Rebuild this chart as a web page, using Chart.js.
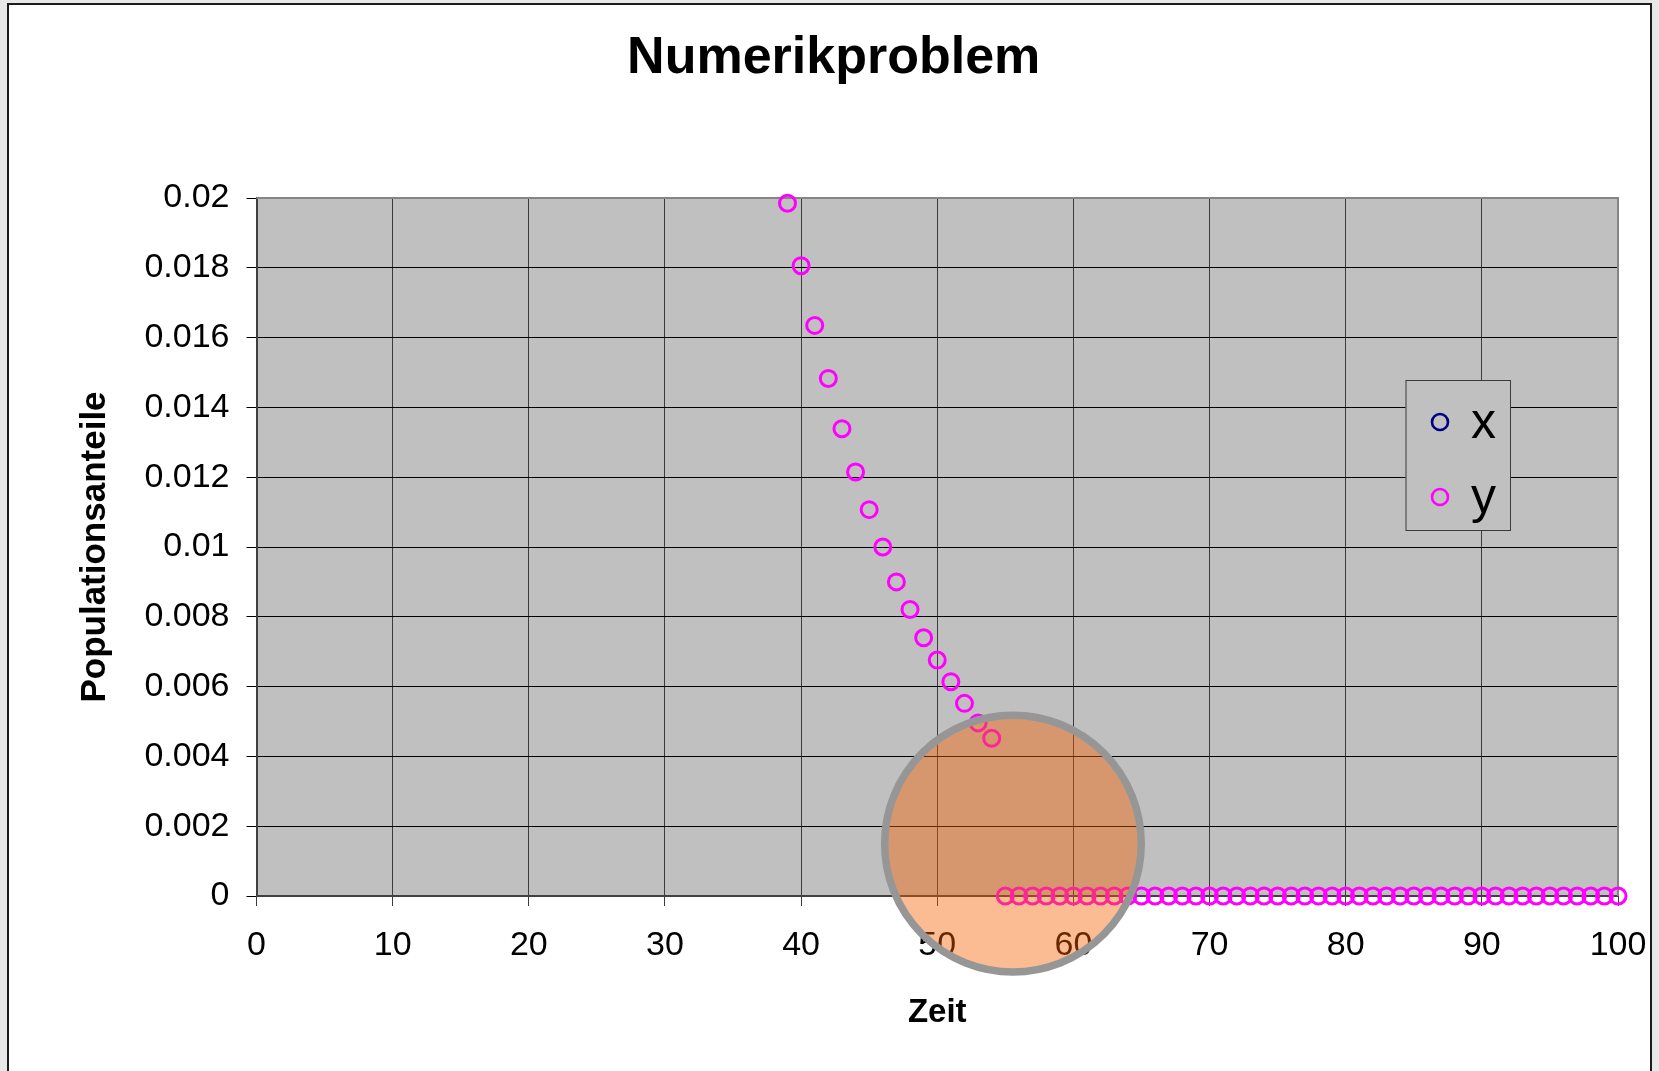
<!DOCTYPE html>
<html>
<head>
<meta charset="utf-8">
<title>Numerikproblem</title>
<script src="https://cdn.jsdelivr.net/npm/chart.js@4.4.1/dist/chart.umd.min.js"></script>
<style>
  html, body { margin: 0; padding: 0; width: 1659px; height: 1071px; overflow: hidden; background: #e8e8e8; }
  #sheet { position: absolute; left: 7px; top: 3px; width: 1641px; height: 1120px; border: 2px solid #1c1c1c; background: #ffffff; }
  #chart { position: absolute; left: 0; top: 0; }
</style>
</head>
<body>
<div id="sheet"></div>
<canvas id="chart" width="1659" height="1071"></canvas>
<script>
const FONT = '"Liberation Sans", Arial, Helvetica, sans-serif';

// Zeit (time steps) of the plotted points
const zeit = [
  39, 40, 41, 42, 43, 44, 45, 46, 47, 48, 49, 50, 51, 52, 53, 54,
  55, 56, 57, 58, 59, 60, 61, 62, 63, 64, 65, 66, 67, 68, 69, 70,
  71, 72, 73, 74, 75, 76, 77, 78, 79, 80, 81, 82, 83, 84, 85, 86,
  87, 88, 89, 90, 91, 92, 93, 94, 95, 96, 97, 98, 99, 100
];

// Population share y at each time step
const anteilY = [
  0.01985, 0.01806, 0.01635, 0.01483, 0.01339, 0.01215, 0.01107, 0.01000,
  0.00900, 0.00821, 0.00740, 0.00676, 0.00614, 0.00552, 0.00496, 0.00452,
  0, 0, 0, 0, 0, 0, 0, 0, 0, 0, 0, 0, 0, 0, 0, 0,
  0, 0, 0, 0, 0, 0, 0, 0, 0, 0, 0, 0, 0, 0, 0, 0,
  0, 0, 0, 0, 0, 0, 0, 0, 0, 0, 0, 0, 0, 0
];

// Population share x: no points inside the shown value range
const anteilX = [];

const xTickLabels = ['0', '10', '20', '30', '40', '50', '60', '70', '80', '90', '100'];
const yTickLabels = ['0', '0.002', '0.004', '0.006', '0.008', '0.01', '0.012', '0.014', '0.016', '0.018', '0.02'];

const seriesNames = ['x', 'y'];

// Grey plot background behind the grid
const plotBackground = {
  id: 'plotBackground',
  beforeDraw(chart) {
    const { ctx, chartArea: a } = chart;
    ctx.save();
    ctx.fillStyle = '#c0c0c0';
    ctx.fillRect(a.left, a.top, a.right - a.left, a.bottom - a.top);
    ctx.restore();
  }
};

// Upper and right edge of the plot frame
const plotFrame = {
  id: 'plotFrame',
  beforeDatasetsDraw(chart) {
    const { ctx, chartArea: a } = chart;
    ctx.save();
    ctx.strokeStyle = '#858585';
    ctx.lineWidth = 2;
    ctx.beginPath();
    ctx.moveTo(a.left, a.top);
    ctx.lineTo(a.right, a.top);
    ctx.lineTo(a.right, a.bottom);
    ctx.stroke();
    ctx.restore();
  }
};

// Boxed legend inside the plot area
const boxLegend = {
  id: 'boxLegend',
  afterDatasetsDraw(chart, args, opts) {
    const { ctx } = chart;
    ctx.save();
    ctx.fillStyle = '#c0c0c0';
    ctx.fillRect(opts.left, opts.top, opts.width, opts.height);
    ctx.strokeStyle = '#3a3a3a';
    ctx.lineWidth = 1;
    ctx.strokeRect(opts.left + 0.5, opts.top + 0.5, opts.width, opts.height);
    chart.data.datasets.forEach((ds, i) => {
      const cy = opts.firstMarkerY + i * opts.rowGap;
      ctx.beginPath();
      ctx.arc(opts.markerX, cy, ds.pointRadius, 0, Math.PI * 2);
      ctx.strokeStyle = ds.borderColor;
      ctx.lineWidth = 2.6;
      ctx.stroke();
      ctx.fillStyle = '#000';
      ctx.font = opts.fontSize + 'px ' + FONT;
      ctx.textAlign = 'left';
      ctx.textBaseline = 'alphabetic';
      ctx.fillText(ds.label, opts.textX, opts.firstBaseline + i * opts.rowGap);
    });
    ctx.restore();
  }
};

// Translucent highlight circle drawn over the finished chart
const highlightCircle = {
  id: 'highlightCircle',
  afterDraw(chart, args, opts) {
    const { ctx, scales } = chart;
    const cx = scales.x.getPixelForValue(opts.x);
    const cy = scales.y.getPixelForValue(opts.y);
    ctx.save();
    ctx.beginPath();
    ctx.arc(cx, cy, opts.radius, 0, Math.PI * 2);
    ctx.fillStyle = opts.fill;
    ctx.fill();
    ctx.lineWidth = opts.lineWidth;
    ctx.strokeStyle = opts.stroke;
    ctx.stroke();
    ctx.restore();
  }
};

const toPoints = arr => arr.map((v, i) => ({ x: zeit[i], y: v }));

new Chart(document.getElementById('chart'), {
  type: 'scatter',
  data: {
    datasets: [
      {
        label: seriesNames[0],
        data: toPoints(anteilX),
        borderColor: '#000080',
        backgroundColor: 'rgba(0,0,0,0)',
        pointRadius: 8,
        pointBorderWidth: 3,
        pointHoverRadius: 8,
        showLine: false,
        clip: false
      },
      {
        label: seriesNames[1],
        data: toPoints(anteilY),
        borderColor: '#ff00ff',
        backgroundColor: 'rgba(0,0,0,0)',
        pointRadius: 8,
        pointBorderWidth: 3,
        pointHoverRadius: 8,
        showLine: false,
        clip: false
      }
    ]
  },
  options: {
    responsive: false,
    animation: false,
    devicePixelRatio: 1,
    layout: { padding: { left: 49.4, right: 41, top: 0, bottom: 0 } },
    scales: {
      x: {
        type: 'linear',
        position: 'bottom',
        min: 0,
        max: 100,
        afterBuildTicks: s => { s.ticks = xTickLabels.map(t => ({ value: parseFloat(t) })); },
        afterFit: s => { s.height = 175; s.paddingLeft = 0; s.paddingRight = 0; },
        ticks: {
          callback: (v, i) => xTickLabels[i],
          color: '#000',
          padding: 19,
          maxRotation: 0,
          font: { family: FONT, size: 34 }
        },
        grid: { color: '#3c3c3c', lineWidth: 1, tickLength: 10, drawTicks: true },
        border: { color: '#404040', width: 2 },
        title: {
          display: true,
          text: 'Zeit',
          color: '#000',
          font: { family: FONT, size: 33, weight: 'bold' },
          padding: { top: 0, bottom: 38 }
        }
      },
      y: {
        type: 'linear',
        position: 'left',
        min: 0,
        max: 0.02,
        afterBuildTicks: s => { s.ticks = yTickLabels.map(t => ({ value: parseFloat(t) })); },
        afterFit: s => { s.width = 207.1; s.paddingTop = 0; s.paddingBottom = 0; },
        ticks: {
          callback: (v, i) => yTickLabels[i],
          color: '#000',
          padding: 17,
          font: { family: FONT, size: 34 }
        },
        grid: { color: '#000', lineWidth: 1, tickLength: 10, drawTicks: true },
        border: { color: '#404040', width: 2 },
        title: {
          display: true,
          text: 'Populationsanteile',
          color: '#000',
          font: { family: FONT, size: 35, weight: 'bold' },
          padding: { top: 24.5, bottom: 0 }
        }
      }
    },
    plugins: {
      legend: { display: false },
      tooltip: { enabled: false },
      title: {
        display: true,
        text: 'Numerikproblem',
        color: '#000',
        font: { family: FONT, size: 52, weight: 'bold' },
        padding: { top: 27, bottom: 108.6 }
      },
      boxLegend: {
        left: 1405.5, top: 380, width: 104.5, height: 150,
        markerX: 1440, firstMarkerY: 422, rowGap: 75,
        textX: 1471, firstBaseline: 438, fontSize: 50
      },
      highlightCircle: {
        x: 55.56, y: 0.0015, radius: 128.3, lineWidth: 7.5,
        fill: 'rgba(246, 96, 0, 0.42)', stroke: '#969696'
      }
    }
  },
  plugins: [plotBackground, plotFrame, boxLegend, highlightCircle]
});
</script>
</body>
</html>
